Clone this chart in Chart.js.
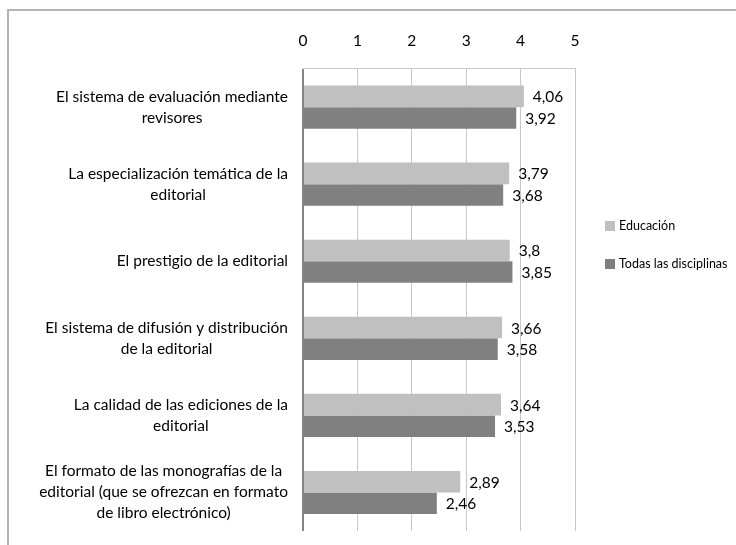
<!DOCTYPE html>
<html>
<head>
<meta charset="utf-8">
<script src="https://cdn.jsdelivr.net/npm/chart.js@4.4.1/dist/chart.umd.min.js"></script>
<style>
    body { margin: 0; background: #fff; overflow: hidden; }
    #frame { position: absolute; left: 7px; top: 9px; width: 800px; height: 600px; border: 2px solid #b3b3b3; }
    #wrap { position: absolute; left: 0; top: 0; width: 736px; height: 545px; }
</style>
</head>
<body>
<div id="frame"></div>
<div id="wrap"><canvas id="chart" width="736" height="545"></canvas></div>
<script>
// data
const categories = [
    ["El sistema de evaluación mediante", "revisores"],
    ["La especialización temática de la", "editorial"],
    ["El prestigio de la editorial"],
    ["El sistema de difusión y distribución", "de la editorial"],
    ["La calidad de las ediciones de la", "editorial"],
    ["El formato de las monografías de la", "editorial (que se ofrezcan en formato", "de libro electrónico)"]
];
const educacion = [4.06, 3.79, 3.8, 3.66, 3.64, 2.89];
const todas = [3.92, 3.68, 3.85, 3.58, 3.53, 2.46];
const xTicks = [0, 1, 2, 3, 4, 5];

const FONT = "Lato, 'Open Sans', sans-serif";

// category labels: block right-aligned, lines centered
const categoryLabels = {
    id: 'categoryLabels',
    afterDraw(chart) {
        const ctx = chart.ctx;
        const y = chart.scales.y;
        const right = chart.chartArea.left - 15;
        ctx.save();
        ctx.font = "15.5px " + FONT;
        ctx.fillStyle = '#000';
        ctx.textAlign = 'center';
        ctx.textBaseline = 'middle';
        categories.forEach((lines, i) => {
            const cy = y.getPixelForValue(i);
            const maxW = Math.max(...lines.map(l => ctx.measureText(l).width));
            const cx = right - maxW / 2;
            const lh = 21;
            lines.forEach((l, j) => {
                ctx.fillText(l, cx, cy + (j - (lines.length - 1) / 2) * lh);
            });
        });
        ctx.restore();
    }
};

// value labels right of each bar
const valueLabels = {
    id: 'valueLabels',
    afterDatasetsDraw(chart) {
        const ctx = chart.ctx;
        ctx.save();
        ctx.font = "15.5px " + FONT;
        ctx.fillStyle = '#000';
        ctx.textAlign = 'left';
        ctx.textBaseline = 'middle';
        chart.data.datasets.forEach((ds, di) => {
            chart.getDatasetMeta(di).data.forEach((bar, i) => {
                ctx.fillText(String(ds.data[i]).replace('.', ','), bar.x + 9, bar.y + 1);
            });
        });
        ctx.restore();
    }
};

// legend on the right
const sideLegend = {
    id: 'sideLegend',
    afterDraw(chart) {
        const ctx = chart.ctx;
        const ys = [226, 264];
        ctx.save();
        ctx.font = "12.5px " + FONT;
        ctx.textBaseline = 'middle';
        chart.data.datasets.forEach((ds, i) => {
            ctx.fillStyle = ds.backgroundColor;
            ctx.fillRect(605, ys[i] - 5, 10, 10);
            ctx.fillStyle = '#000';
            ctx.fillText(ds.label, 619, ys[i]);
        });
        ctx.restore();
    }
};

new Chart(document.getElementById('chart'), {
    type: 'bar',
    data: {
        labels: categories.map(c => c.join(' ')),
        datasets: [{
            label: 'Educación',
            data: educacion,
            backgroundColor: '#c0c0c0',
            categoryPercentage: 0.56,
            barPercentage: 1.0
        }, {
            label: 'Todas las disciplinas',
            data: todas,
            backgroundColor: '#808080',
            categoryPercentage: 0.56,
            barPercentage: 1.0
        }]
    },
    options: {
        indexAxis: 'y',
        responsive: false,
        animation: false,
        layout: { padding: { left: 303, right: 161, top: 14, bottom: 14 } },
        plugins: {
            legend: { display: false },
            tooltip: { enabled: false }
        },
        scales: {
            x: {
                position: 'top',
                min: 0,
                max: 5,
                afterBuildTicks: axis => { axis.ticks = xTicks.map(v => ({ value: v })); },
                ticks: {
                    color: '#000',
                    font: { family: FONT, size: 15.5 },
                    padding: 18
                },
                grid: {
                    drawTicks: false,
                    color: ctx => ctx.tick && ctx.tick.value === 0 ? '#868686' : '#c8c8c8',
                    lineWidth: ctx => ctx.tick && ctx.tick.value === 0 ? 2 : 1
                },
                border: { color: '#c8c8c8' }
            },
            y: {
                display: false
            }
        }
    },
    plugins: [categoryLabels, valueLabels, sideLegend]
});
</script>
</body>
</html>
